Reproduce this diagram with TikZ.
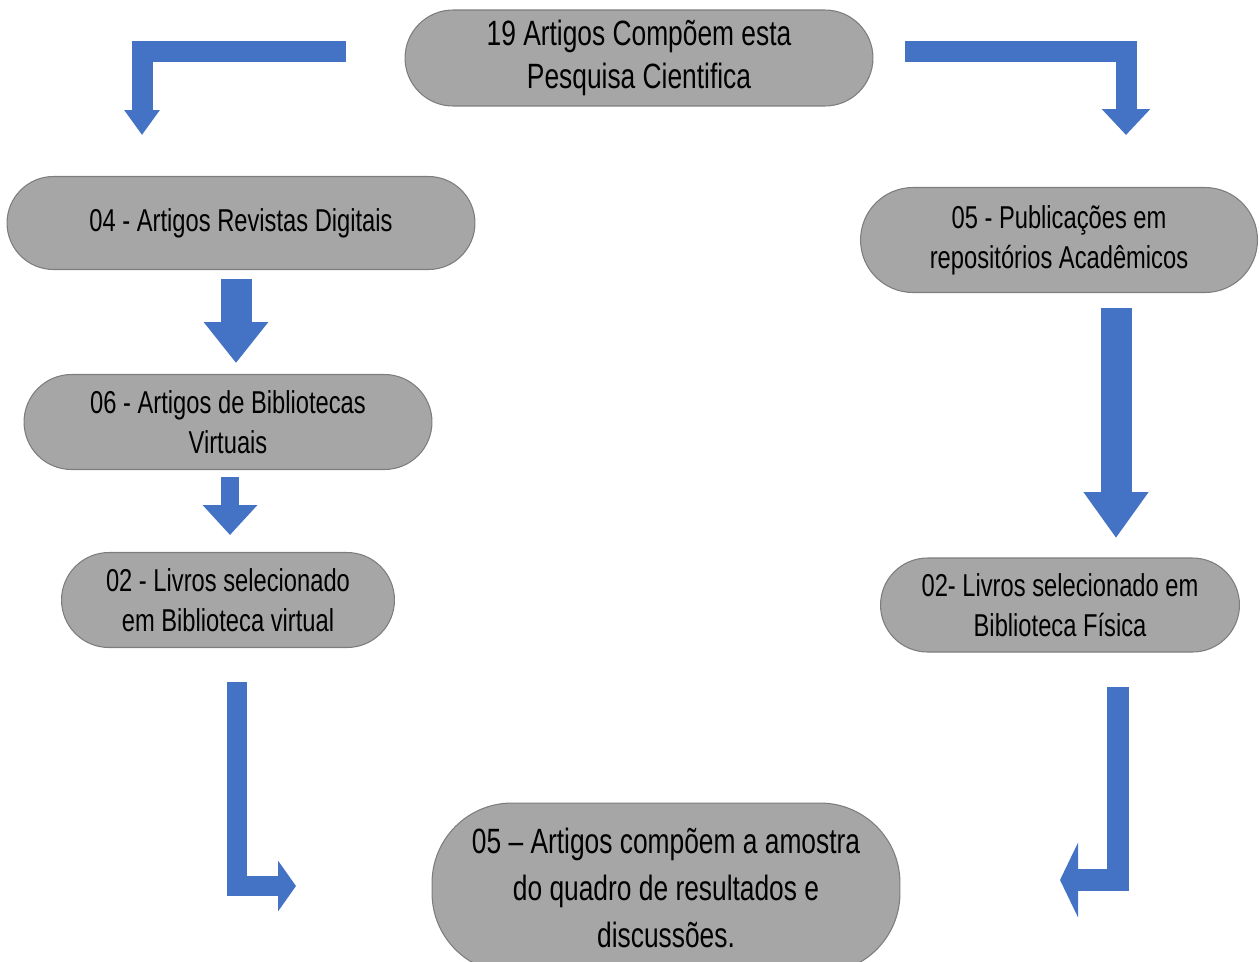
\documentclass[tikz,border=0pt]{standalone}
\usepackage{fontspec}
\setmainfont[FakeStretch=0.75]{Liberation Sans}
\usepackage {tikz}
\usetikzlibrary {positioning}
\usetikzlibrary{arrows.meta}
\definecolor{pillgray}{RGB}{166,166,166}
\definecolor{pillline}{RGB}{125,125,125}
\definecolor{arrowblue}{RGB}{68,114,196}
\tikzset{
    pill/.style = {rectangle, draw=pillline, fill=pillgray, line width=0.6pt, align=center, inner sep=0pt},
    bigtext/.style = {font=\fontsize{20}{24.4}\selectfont},
    midtext/.style = {font=\fontsize{18}{22.7}\selectfont},
    lowtext/.style = {font=\fontsize{20}{26.6}\selectfont},
    blockarrow/.style n args = {3}{draw=arrowblue, line width=#1, -{Triangle[length=#2, width=#3]}}}

\begin{document}
\begin{tikzpicture}[x=0.02cm, y=-0.02cm]
        \useasboundingbox (0,0) rectangle (1260,961);
        \path (639,58) node[pill, bigtext, minimum width=9.36cm, minimum height=1.92cm, rounded corners=0.96cm] (total) {19 Artigos Compõem esta\\Pesquisa Cientifica}
        (241,223) node[pill, midtext, minimum width=9.36cm, minimum height=1.86cm, rounded corners=0.93cm] (revistas) {04 - Artigos Revistas Digitais}
        (228,422) node[pill, midtext, minimum width=8.16cm, minimum height=1.9cm, rounded corners=0.95cm] (virtuais) {06 - Artigos de Bibliotecas\\Virtuais}
        (228,600) node[pill, midtext, minimum width=6.66cm, minimum height=1.9cm, rounded corners=0.95cm] (livrosvirt) {02 - Livros selecionado\\em Biblioteca virtual}
        (1059,240) node[pill, midtext, minimum width=7.94cm, minimum height=2.1cm, rounded corners=1.05cm] (repositorios) {05 - Publicações em\\repositórios Acadêmicos}
        (1060,605) node[pill, midtext, minimum width=7.18cm, minimum height=1.88cm, rounded corners=0.94cm] (livrosfis) {02- Livros selecionado em\\Biblioteca Física}
        (666,888) node[pill, lowtext, minimum width=9.36cm, minimum height=3.4cm, rounded corners=1.6cm] (amostra) {05 – Artigos compõem a amostra\\do quadro de resultados e\\discussões.};
        \path (346,51) coordinate (tl0) (142,135) coordinate (tl1)
        (905,51) coordinate (tr0) (1126,135) coordinate (tr1)
        (236,279) coordinate (la0) (236,363) coordinate (la1)
        (230,477) coordinate (lb0) (230,535) coordinate (lb1)
        (237,682) coordinate (bl0) (296,886) coordinate (bl1)
        (1116,308) coordinate (ra0) (1116,538) coordinate (ra1)
        (1118,687) coordinate (br0) (1060,880) coordinate (br1);
        \draw[blockarrow={0.42cm}{0.5cm}{0.68cm}] (tl0) -| (tl1);
        \draw[blockarrow={0.42cm}{0.52cm}{0.94cm}] (tr0) -| (tr1);
        \draw[blockarrow={0.62cm}{0.82cm}{1.24cm}] (la0) -- (la1);
        \draw[blockarrow={0.36cm}{0.6cm}{1.06cm}] (lb0) -- (lb1);
        \draw[blockarrow={0.62cm}{0.92cm}{1.24cm}] (ra0) -- (ra1);
        \draw[blockarrow={0.4cm}{0.36cm}{1.0cm}] (bl0) |- (bl1);
        \draw[blockarrow={0.44cm}{0.36cm}{1.48cm}] (br0) |- (br1);
\end{tikzpicture}
\end{document}
